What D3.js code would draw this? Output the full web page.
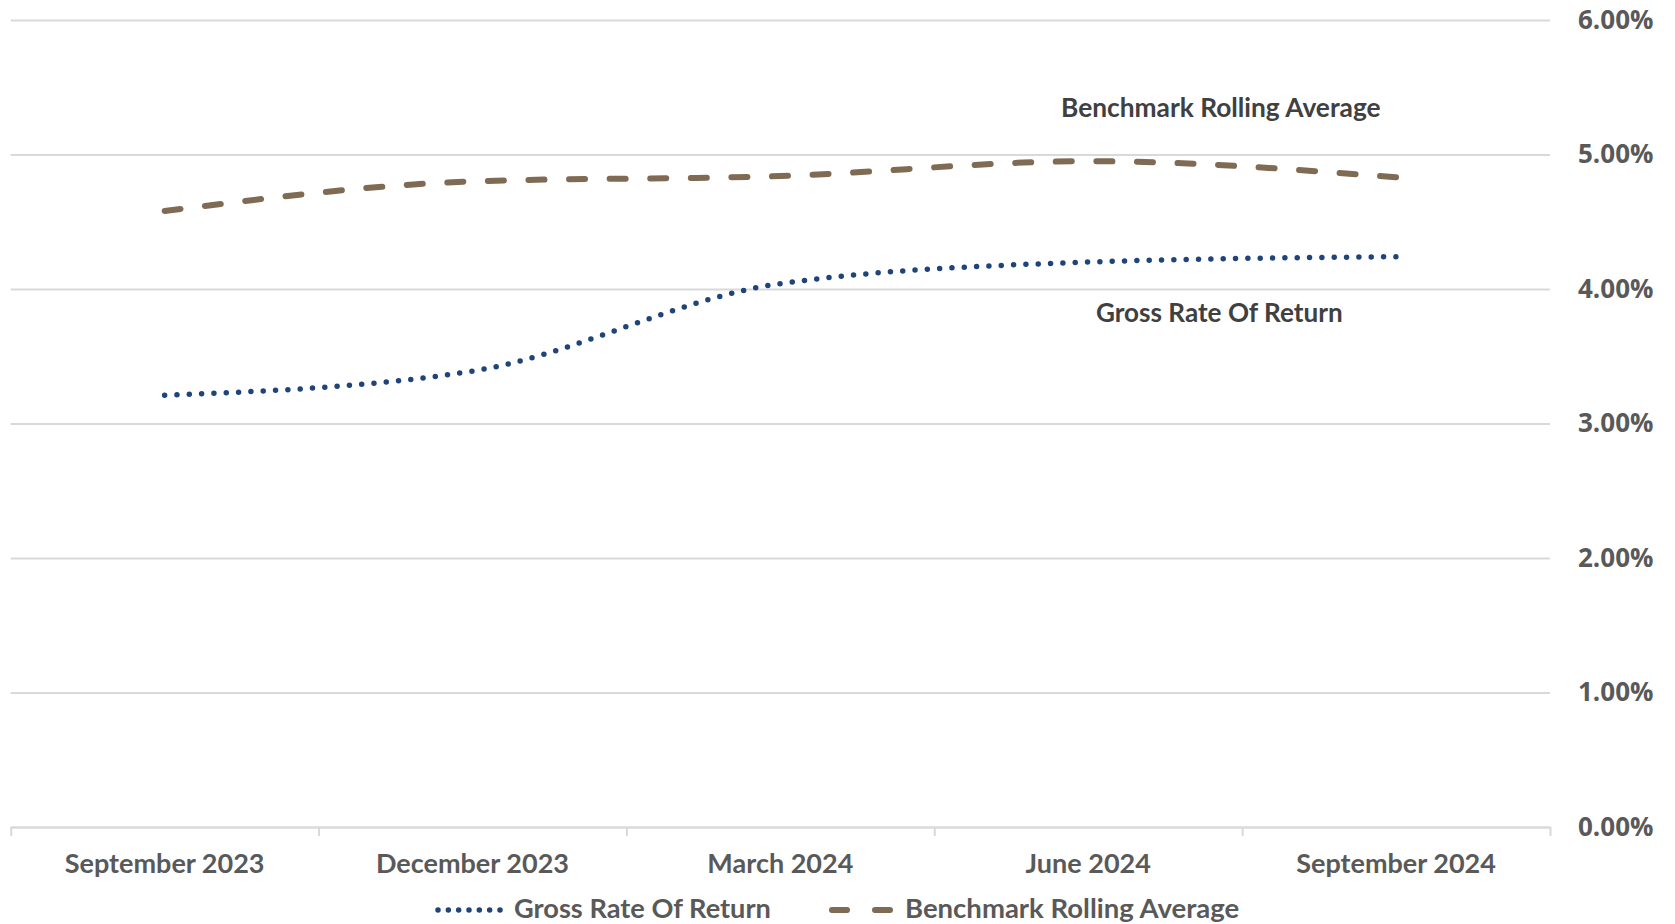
<!DOCTYPE html>
<html>
<head>
<meta charset="utf-8">
<script src="https://cdn.jsdelivr.net/npm/d3@7/dist/d3.min.js"></script>
<style>
  html, body { margin: 0; padding: 0; background: #ffffff; }
  svg { display: block; }
  .cal { font-family: Lato, "Noto Sans", sans-serif; font-weight: bold; }
  .seg { font-family: "Open Sans", "Noto Sans", sans-serif; font-weight: bold; }
</style>
</head>
<body>
<svg id="chart" width="1675" height="924"></svg>
<script>
// ---------- data ----------
const categories = ["September 2023", "December 2023", "March 2024", "June 2024", "September 2024"];
const grossRateOfReturn = [3.21, 3.39, 4.04, 4.20, 4.24];
const benchmarkRollingAverage = [4.58, 4.80, 4.84, 4.95, 4.83];
const yTicks = [0, 1, 2, 3, 4, 5, 6];
const seriesNames = ["Gross Rate Of Return", "Benchmark Rolling Average"];

// ---------- layout ----------
const plotLeft = 10.7, plotRight = 1550, plotTop = 20, plotBottom = 827;
const navy = "#1f4479", brown = "#7f6a53";
const gridColor = "#d9d9d9", txtColor = "#595959", annColor = "#404040";

const svg = d3.select("#chart");

const x = d3.scaleBand().domain(categories).range([plotLeft, plotRight]).paddingInner(0).paddingOuter(0);
const xc = d => x(d) + x.bandwidth() / 2;
const y = d3.scaleLinear().domain([0, 6]).range([plotBottom, plotTop]);

// gridlines + y labels (right side)
const yAxis = d3.axisRight(y)
  .tickValues(yTicks)
  .tickSize(plotRight - plotLeft)
  .tickPadding(28)
  .tickFormat(d => d.toFixed(2) + "%");
const gy = svg.append("g").attr("transform", `translate(${plotLeft},0)`).call(yAxis);
gy.select(".domain").remove();
gy.selectAll(".tick line").attr("stroke", gridColor).attr("stroke-width", 2);
gy.selectAll(".tick text")
  .attr("class", "seg")
  .attr("fill", txtColor)
  .style("font-size", "26px")
  .attr("text-anchor", "start");

// x axis boundary ticks
const xb = d3.scaleLinear().domain([0, categories.length]).range([plotLeft, plotRight]);
const gxb = svg.append("g").attr("transform", `translate(0,${plotBottom})`)
  .call(d3.axisBottom(xb).ticks(categories.length).tickSize(9).tickSizeOuter(0).tickFormat(""));
gxb.select(".domain").attr("stroke", gridColor).attr("stroke-width", 2);
gxb.selectAll(".tick line").attr("stroke", gridColor).attr("stroke-width", 2);

// x labels
const gx = svg.append("g").attr("transform", `translate(0,${plotBottom})`)
  .call(d3.axisBottom(x).tickSize(0).tickPadding(0));
gx.select(".domain").remove();
gx.selectAll(".tick text")
  .attr("class", "cal xlab")
  .attr("fill", txtColor)
  .style("font-size", "27px")
  .attr("dy", null)
  .attr("y", 46);

// lines
const line = d3.line()
  .x((d, i) => xc(categories[i]))
  .y(d => y(d))
  .curve(d3.curveMonotoneX);

const bPath = svg.append("path")
  .datum(benchmarkRollingAverage)
  .attr("d", line)
  .attr("fill", "none")
  .attr("stroke", brown)
  .attr("stroke-width", 6)
  .attr("stroke-linecap", "round");
{
  const L = bPath.node().getTotalLength();
  const dash = 16;
  const n = Math.max(1, Math.round((L - dash) / 40));
  const period = (L - dash) / n - 0.002;
  bPath.attr("stroke-dasharray", `${dash} ${period - dash}`);
}

const gPath = svg.append("path")
  .datum(grossRateOfReturn)
  .attr("d", line)
  .attr("fill", "none")
  .attr("stroke", navy)
  .attr("stroke-width", 5.5)
  .attr("stroke-linecap", "round");
{
  const L = gPath.node().getTotalLength();
  const n = Math.max(1, Math.round(L / 12.3));
  gPath.attr("stroke-dasharray", `0 ${L / n - 0.002}`);
}

// annotations
svg.append("text").attr("class", "cal ann")
  .attr("x", 1061).attr("y", 117)
  .attr("fill", annColor).style("font-size", "26.3px")
  .text(seriesNames[1]);
svg.append("text").attr("class", "cal ann")
  .attr("x", 1096).attr("y", 322)
  .attr("fill", annColor).style("font-size", "26.1px")
  .text(seriesNames[0]);

// legend
const lg = svg.append("g");
lg.append("line").attr("x1", 438).attr("x2", 500).attr("y1", 910).attr("y2", 910)
  .attr("stroke", navy).attr("stroke-width", 5.5).attr("stroke-linecap", "round")
  .attr("stroke-dasharray", "0 10.33");
lg.append("text").attr("class", "cal leg").attr("x", 514).attr("y", 918)
  .attr("fill", txtColor).style("font-size", "27.2px").text(seriesNames[0]);
lg.append("line").attr("x1", 832).attr("x2", 890).attr("y1", 910).attr("y2", 910)
  .attr("stroke", brown).attr("stroke-width", 6).attr("stroke-linecap", "round")
  .attr("stroke-dasharray", "15 28");
lg.append("text").attr("class", "cal leg").attr("x", 905).attr("y", 918)
  .attr("fill", txtColor).style("font-size", "27.5px").text(seriesNames[1]);
</script>
</body>
</html>
